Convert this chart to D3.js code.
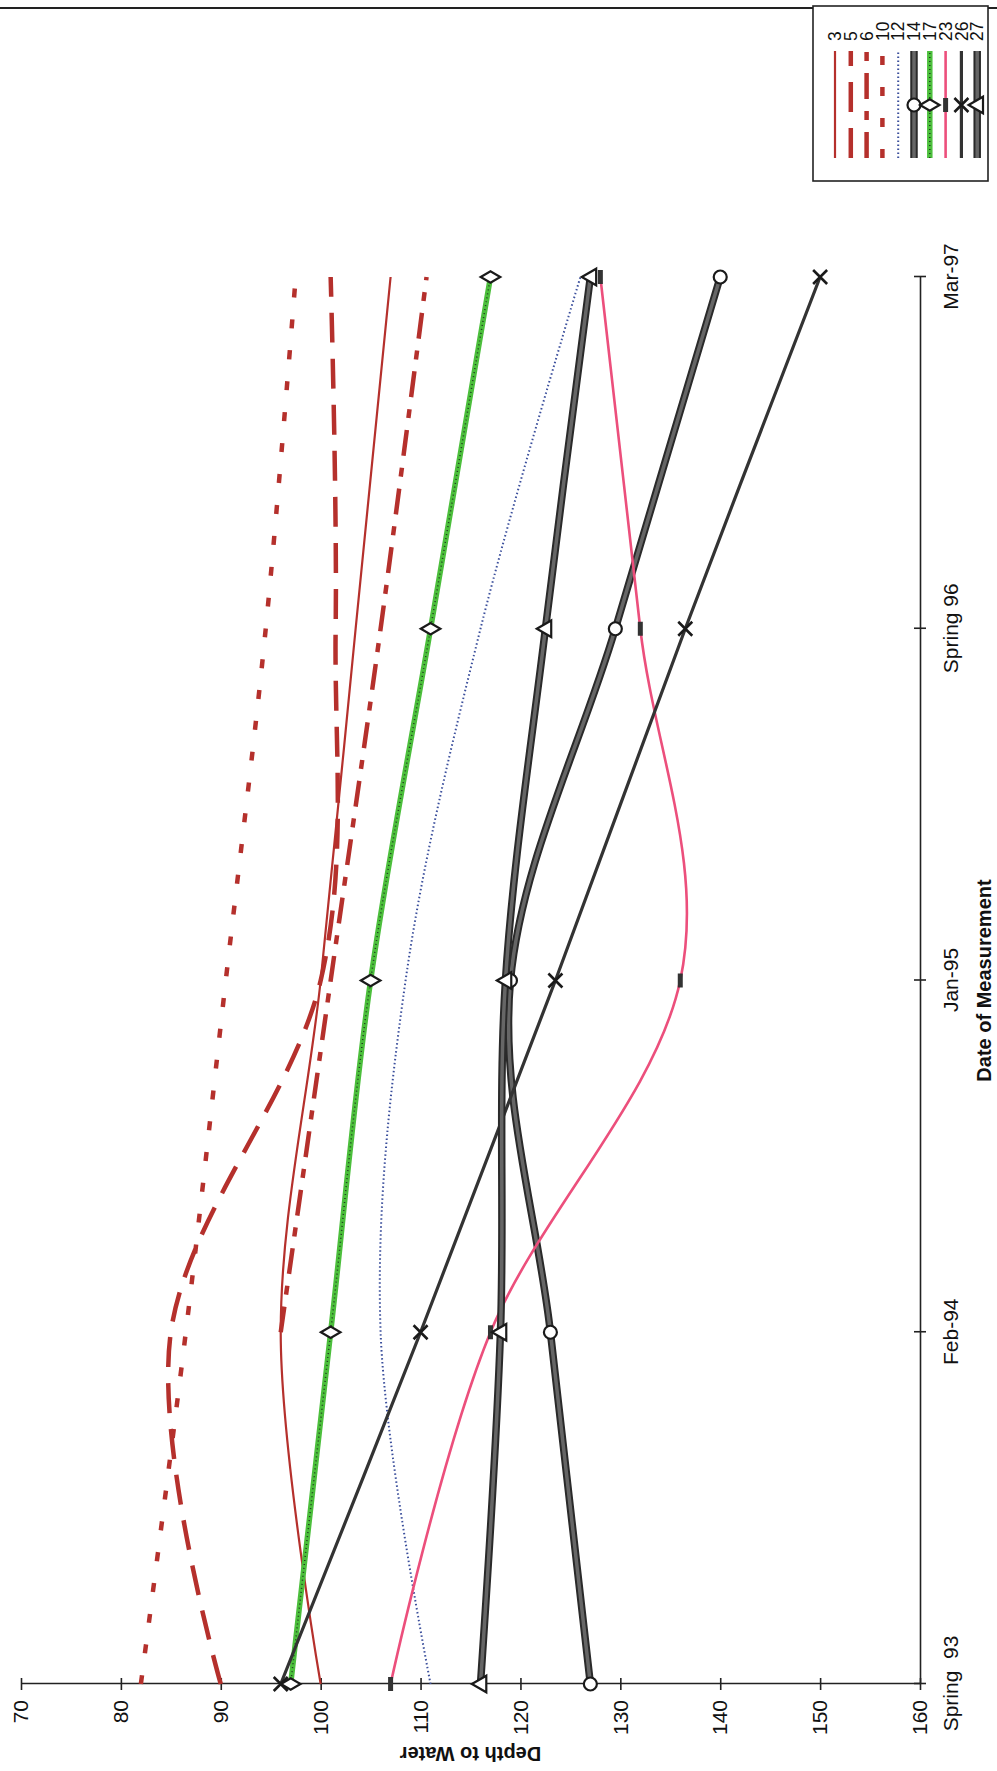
<!DOCTYPE html>
<html><head><meta charset="utf-8">
<script src="https://cdn.jsdelivr.net/npm/d3@7"></script>
<style>
html,body{margin:0;padding:0;background:#fff;}
svg{display:block;}
text{font-family:Arial,"Liberation Sans",Helvetica,sans-serif;}
</style></head>
<body>
<script>
const categories = ["Spring  93", "Feb-94", "Jan-95", "Spring 96", "Mar-97"];
const depthTicks = [70, 80, 90, 100, 110, 120, 130, 140, 150, 160];
const seriesNames = ["3", "5", "6", "10", "12", "14", "17", "23", "26", "27"];
const s3  = [100, 96, 100, 103.5, 107];
const s5  = [90, 85, 100, 101.5, 101];
const s6  = [null, 96, 101, 106, 110.6];
const s10 = [82, 86.5, 90.5, 94.5, 97.5];
const s12 = [111, 106, 108.5, 116, 126];
const s14 = [127, 123, 119, 129.5, 140];
const s17 = [97, 101, 105, 111, 117];
const s23 = [107, 117, 136, 132, 128];
const s26 = [96, 110, 123.5, 136.5, 150];
const s27 = [116, 118, 118.5, 122.5, 127];
const seriesValues = [s3, s5, s6, s10, s12, s14, s17, s23, s26, s27];

const W = 997, H = 1771;
const red = "#b5302c";
const styles = {
  "3":  {layers:[{c:red, w:2.2}], marker:null},
  "5":  {layers:[{c:red, w:4.5, dash:"30,16"}], marker:null},
  "6":  {layers:[{c:red, w:4.5, dash:"26,12,9,12"}], marker:null},
  "10": {layers:[{c:red, w:4.5, dash:"9,22"}], marker:null},
  "12": {layers:[{c:"#3b4f9c", w:2, dash:"1.5,2.5"}], marker:null},
  "14": {layers:[{c:"#2a2a2a", w:7.5},{c:"#666", w:3.5}], marker:"circle"},
  "17": {layers:[{c:"#4cbf3c", w:5.5},{c:"#1e3a1e", w:1.5, dash:"1,3"}], marker:"diamond"},
  "23": {layers:[{c:"#ec4f7c", w:2.6}], marker:"dash"},
  "26": {layers:[{c:"#333", w:3.2}], marker:"x"},
  "27": {layers:[{c:"#2a2a2a", w:7.5},{c:"#666", w:3.5}], marker:"triangle"}
};

const svg = d3.select("body").append("svg").attr("width", W).attr("height", H);
svg.append("rect").attr("width", W).attr("height", H).attr("fill", "#fff");

// chart drawn in its original (landscape) orientation, then turned a quarter left
const g = svg.append("g").attr("transform", `translate(0,${H}) rotate(-90)`);

const x = d3.scalePoint().domain(categories).range([87, 1494]);
const y = d3.scaleLinear().domain([70, 160]).range([21, 920]);

// chart border (right edge in original orientation)
g.append("line").attr("x1", 1763).attr("x2", 1763).attr("y1", 0).attr("y2", W)
  .attr("stroke", "#222").attr("stroke-width", 2);

// axes
const yAxis = g.append("g").attr("transform", "translate(87,0)")
  .call(d3.axisLeft(y).tickValues(depthTicks).tickSizeInner(6).tickSizeOuter(0).tickPadding(10));
yAxis.selectAll(".tick line").attr("x1", 6);
const xAxis = g.append("g").attr("transform", "translate(0,920)")
  .call(d3.axisBottom(x).tickSizeInner(6).tickSizeOuter(0).tickPadding(17));
xAxis.selectAll(".tick line").attr("y1", -6);
[yAxis, xAxis].forEach(a => {
  a.select(".domain").attr("stroke", "#222").attr("stroke-width", 1.6);
  a.selectAll(".tick line").attr("stroke", "#222").attr("stroke-width", 1.6);
  a.selectAll("text").attr("font-size", 21).attr("fill", "#111")
    .attr("font-family", "Arial, 'Liberation Sans', sans-serif");
});
xAxis.selectAll("text").style("white-space", "pre").attr("xml:space", "preserve");

// axis titles
g.append("text").attr("transform", `translate(24,${(21 + 920) / 2}) rotate(-90)`)
  .attr("text-anchor", "middle").attr("font-size", 20).attr("font-weight", "bold")
  .attr("fill", "#111").text("Depth to Water");
g.append("text").attr("x", (87 + 1494) / 2).attr("y", 991)
  .attr("text-anchor", "middle").attr("font-size", 20).attr("font-weight", "bold")
  .attr("fill", "#111").text("Date of Measurement");

// lines
const line = d3.line()
  .defined(d => d.v != null)
  .x(d => x(d.c)).y(d => y(d.v))
  .curve(d3.curveCardinal.tension(0));

function drawMarker(sel, type, cx, cy) {
  const stroke = "#1a1a1a";
  if (type === "circle") {
    sel.append("circle").attr("cx", cx).attr("cy", cy).attr("r", 6.5)
      .attr("fill", "#fff").attr("stroke", stroke).attr("stroke-width", 2.2);
  } else if (type === "diamond") {
    sel.append("path").attr("transform", `translate(${cx},${cy})`)
      .attr("d", d3.symbol(d3.symbolDiamond, 110)())
      .attr("fill", "#fff").attr("stroke", stroke).attr("stroke-width", 2.2);
  } else if (type === "triangle") {
    sel.append("path").attr("transform", `translate(${cx},${cy + 1})`)
      .attr("d", d3.symbol(d3.symbolTriangle, 120)())
      .attr("fill", "#fff").attr("stroke", stroke).attr("stroke-width", 2.2);
  } else if (type === "dash") {
    sel.append("rect").attr("x", cx - 7).attr("y", cy - 2.5).attr("width", 14).attr("height", 5)
      .attr("fill", "#333");
  } else if (type === "x") {
    sel.append("path").attr("d", `M${cx - 7},${cy - 7}L${cx + 7},${cy + 7}M${cx - 7},${cy + 7}L${cx + 7},${cy - 7}`)
      .attr("stroke", stroke).attr("stroke-width", 2.6).attr("fill", "none");
  }
}

const plot = g.append("g");
seriesNames.forEach((name, i) => {
  const data = categories.map((c, j) => ({c, v: seriesValues[i][j]}));
  const st = styles[name];
  st.layers.forEach(l => {
    plot.append("path").datum(data).attr("d", line)
      .attr("fill", "none").attr("stroke", l.c).attr("stroke-width", l.w)
      .attr("stroke-dasharray", l.dash || null).attr("stroke-linecap", "butt");
  });
});
seriesNames.forEach((name, i) => {
  const st = styles[name];
  if (!st.marker) return;
  categories.forEach((c, j) => {
    const v = seriesValues[i][j];
    if (v != null) drawMarker(plot, st.marker, x(c), y(v));
  });
});

// legend
const lg = g.append("g");
lg.append("rect").attr("x", 1590).attr("y", 813).attr("width", 175).attr("height", 175)
  .attr("fill", "#fff").attr("stroke", "#222").attr("stroke-width", 1.6);
seriesNames.forEach((name, i) => {
  const ly = 835 + i * 15.8;
  const st = styles[name];
  st.layers.forEach(l => {
    lg.append("line").attr("x1", 1613).attr("x2", 1720).attr("y1", ly).attr("y2", ly)
      .attr("stroke", l.c).attr("stroke-width", l.w).attr("stroke-dasharray", l.dash || null);
  });
  if (st.marker) drawMarker(lg, st.marker, 1666, ly);
  lg.append("text").attr("x", 1730).attr("y", ly).attr("dy", "0.35em")
    .attr("font-size", 17.5).attr("fill", "#111").text(name);
});
</script>
</body></html>
